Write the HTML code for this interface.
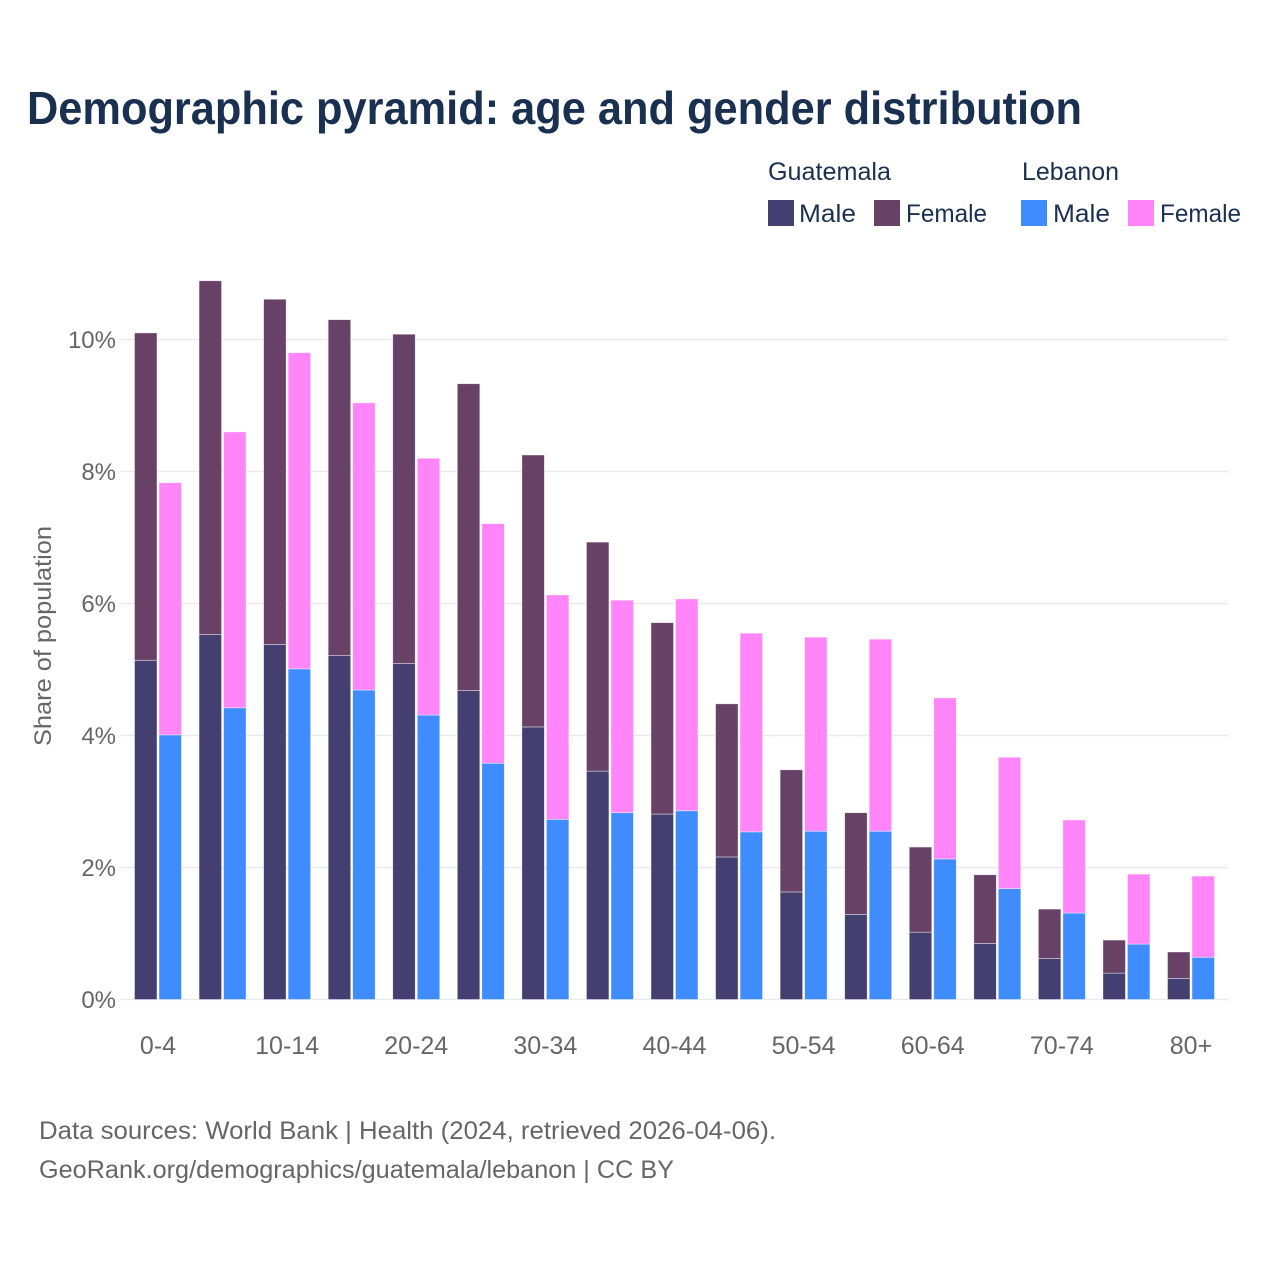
<!DOCTYPE html>
<html>
<head>
<meta charset="utf-8">
<title>Demographic pyramid</title>
<style>
html,body{margin:0;padding:0;background:#fff;}
svg{display:block;font-family:"Liberation Sans",sans-serif;}
</style>
</head>
<body>
<svg id="chart" xmlns="http://www.w3.org/2000/svg" width="1280" height="1280" viewBox="0 0 1280 1280">
<rect x="0" y="0" width="1280" height="1280" fill="#ffffff"/>
<text x="27" y="124" font-size="46" font-weight="700" fill="#1a3050" textLength="1055" lengthAdjust="spacingAndGlyphs">Demographic pyramid: age and gender distribution</text>
<g font-size="25" fill="#1a3050">
<text x="768" y="180" textLength="123" lengthAdjust="spacingAndGlyphs">Guatemala</text>
<text x="1022" y="180" textLength="97" lengthAdjust="spacingAndGlyphs">Lebanon</text>
<rect x="768" y="200" width="26" height="26" fill="#443f71"/>
<text x="799" y="222" textLength="57" lengthAdjust="spacingAndGlyphs">Male</text>
<rect x="874" y="200" width="26" height="26" fill="#674266"/>
<text x="906" y="222" textLength="81" lengthAdjust="spacingAndGlyphs">Female</text>
<rect x="1021" y="200" width="26" height="26" fill="#3f8cff"/>
<text x="1053" y="222" textLength="57" lengthAdjust="spacingAndGlyphs">Male</text>
<rect x="1128" y="200" width="26" height="26" fill="#ff85f8"/>
<text x="1160" y="222" textLength="81" lengthAdjust="spacingAndGlyphs">Female</text>
</g>
<g id="grid"></g>
<g id="bars"></g>
<g id="yticks"></g>
<g id="xticks"></g>
<text transform="translate(51,636) rotate(-90)" text-anchor="middle" font-size="24" fill="#666666" textLength="220" lengthAdjust="spacingAndGlyphs">Share of population</text>
<text x="39" y="1139" font-size="25" fill="#666666" textLength="737" lengthAdjust="spacingAndGlyphs">Data sources: World Bank | Health (2024, retrieved 2026-04-06).</text>
<text x="39" y="1178" font-size="25" fill="#666666" textLength="635" lengthAdjust="spacingAndGlyphs">GeoRank.org/demographics/guatemala/lebanon | CC BY</text>
</svg>
<script>
const categories = ["0-4","5-9","10-14","15-19","20-24","25-29","30-34","35-39","40-44","45-49","50-54","55-59","60-64","65-69","70-74","75-79","80+"];
const guatemalaMale = [5.14,5.53,5.38,5.21,5.09,4.68,4.13,3.46,2.81,2.16,1.63,1.29,1.02,0.85,0.62,0.40,0.32];
const guatemalaFemale = [4.96,5.36,5.23,5.09,4.99,4.65,4.12,3.47,2.90,2.32,1.85,1.54,1.29,1.04,0.75,0.50,0.40];
const lebanonMale = [4.01,4.42,5.01,4.69,4.31,3.58,2.73,2.83,2.86,2.54,2.55,2.55,2.13,1.68,1.31,0.84,0.64];
const lebanonFemale = [3.82,4.18,4.79,4.35,3.89,3.63,3.40,3.22,3.21,3.01,2.94,2.91,2.44,1.99,1.41,1.06,1.23];
const yTickValues = [0,2,4,6,8,10];
const xTickLabels = ["0-4","10-14","20-24","30-34","40-44","50-54","60-64","70-74","80+"];

const NS = "http://www.w3.org/2000/svg";
const plotLeft = 121, plotRight = 1228, firstCenter = 158, lastCenter = 1191;
const y0 = 999.5, yPerUnit = 66;
const barW = 22.5, barGap = 2;
const yScale = v => y0 - v * yPerUnit;
const xCenter = i => firstCenter + i * (lastCenter - firstCenter) / (categories.length - 1);

const gridG = document.getElementById("grid");
const barsG = document.getElementById("bars");
const yG = document.getElementById("yticks");
const xG = document.getElementById("xticks");

yTickValues.forEach(v => {
  const line = document.createElementNS(NS, "line");
  
  
  line.setAttribute("x1", plotLeft);
  line.setAttribute("x2", plotRight);
  line.setAttribute("y1", yScale(v));
  line.setAttribute("y2", yScale(v));
  line.setAttribute("stroke", "#e9e9ee");
  line.setAttribute("stroke-width", "1.4");
  gridG.appendChild(line);

  const t = document.createElementNS(NS, "text");
  
  
  t.setAttribute("x", 116);
  t.setAttribute("y", yScale(v) + 8.5);
  t.setAttribute("text-anchor", "end");
  t.setAttribute("font-size", "24");
  t.setAttribute("fill", "#666666");
  t.textContent = v + "%";
  yG.appendChild(t);
});

function drawBar(x, base, value, color, parent) {
  const r = document.createElementNS(NS, "rect");
  
  
  r.setAttribute("x", x);
  r.setAttribute("y", yScale(base + value));
  r.setAttribute("width", barW);
  r.setAttribute("height", value * yPerUnit);
  r.setAttribute("fill", color);
  r.setAttribute("stroke", "#ffffff");
  r.setAttribute("stroke-opacity", "0.6");
  r.setAttribute("stroke-width", "0.7");
  parent.appendChild(r);
}

categories.forEach((c, i) => {
  const cx = xCenter(i);
  const gx = cx - barGap / 2 - barW;
  const lx = cx + barGap / 2;
  drawBar(gx, 0, guatemalaMale[i], "#443f71", barsG);
  drawBar(gx, guatemalaMale[i], guatemalaFemale[i], "#674266", barsG);
  drawBar(lx, 0, lebanonMale[i], "#3f8cff", barsG);
  drawBar(lx, lebanonMale[i], lebanonFemale[i], "#ff85f8", barsG);
  if (xTickLabels.indexOf(c) >= 0) {
    const t = document.createElementNS(NS, "text");
    
    
    t.setAttribute("x", cx);
    t.setAttribute("y", 1054);
    t.setAttribute("text-anchor", "middle");
    t.setAttribute("font-size", "25");
    t.setAttribute("fill", "#666666");
    t.textContent = c;
    xG.appendChild(t);
  }
});
</script>
</body>
</html>
